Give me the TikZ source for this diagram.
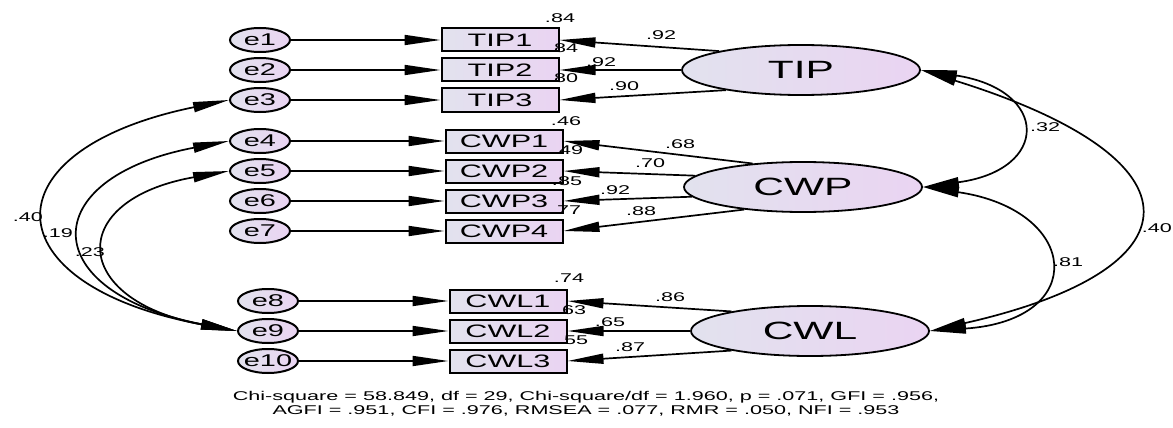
\documentclass[tikz,border=0pt]{standalone}
\usepackage{fontspec}
\setmainfont{Liberation Sans}[FakeStretch=1.7]
\usetikzlibrary{arrows.meta,shapes.geometric}
\definecolor{fillL}{RGB}{226,226,238}
\definecolor{fillR}{RGB}{234,212,242}

\begin{document}
\begin{tikzpicture}[x=1pt,y=-1pt,
  err/.style={ellipse,draw,line width=2pt,minimum width=60pt,minimum height=24pt,inner sep=0pt,
    left color=fillL,right color=fillR,font=\fontsize{17}{17}\selectfont},
  obs/.style={rectangle,draw,line width=2pt,minimum width=117pt,minimum height=23pt,inner sep=0pt,
    left color=fillL,right color=fillR,font=\fontsize{18}{18}\selectfont},
  lat/.style={ellipse,draw,line width=1.8pt,minimum width=238pt,minimum height=50pt,inner sep=0pt,
    left color=fillL,right color=fillR,font=\fontsize{25}{25}\selectfont},
  num/.style={font=\fontsize{12.7}{14}\selectfont,inner sep=0pt},
  arr/.style={line width=1.7pt,-{Triangle[length=36pt,width=10pt]}},
  cov/.style={line width=1.7pt,{Triangle[length=36pt,width=10pt]}-{Triangle[length=36pt,width=10pt]}}]
  \fill[white] (0,0) rectangle (1173,428);
  \useasboundingbox (0,0) rectangle (1173,428);

  % latent variables
  \node[lat] (TIP) at (801,70) {TIP};
  \node[lat] (CWP) at (803,187) {CWP};
  \node[lat] (CWL) at (810,331) {CWL};

  % indicators and their errors
  \foreach \n/\y in {1/40,2/70,3/100}{
    \node[err] (e\n) at (260,\y) {e\n};
    \node[obs] (TIP\n) at (500,\y) {TIP\n};
    \draw[arr] (e\n) -- (TIP\n);
  }
  \foreach \n/\i/\y in {4/1/141,5/2/171,6/3/201,7/4/231}{
    \node[err] (e\n) at (260,\y) {e\n};
    \node[obs] (CWP\i) at (504,\y) {CWP\i};
    \draw[arr] (e\n) -- (CWP\i);
  }
  \foreach \n/\i/\y in {8/1/301,9/2/331,10/3/361}{
    \node[err,inner xsep=-4pt] (e\n) at (268,\y) {e\n};
    \node[obs] (CWL\i) at (508,\y) {CWL\i};
    \draw[arr] (e\n) -- (CWL\i);
  }

  % loadings
  \draw[arr] (TIP.167) -- (TIP1.east);
  \draw[arr] (TIP.180) -- (TIP2.east);
  \draw[arr] (TIP.195) -- (TIP3.east);
  \draw[arr] (CWP.155) -- (CWP1.east);
  \draw[arr] (CWP.174) -- (CWP2.east);
  \draw[arr] (CWP.185) -- (CWP3.east);
  \draw[arr] (CWP.201) -- (CWP4.east);
  \draw[arr] (CWL.166) -- (CWL1.east);
  \draw[arr] (CWL.180) -- (CWL2.east);
  \draw[arr] (CWL.194) -- (CWL3.east);

  \node[num] (r1) at (560,18) {.84};
  \node[num] (w1) at (661,35) {.92};
  \node[num] (r2) at (563,48) {.84};
  \node[num] (w2) at (601,62) {.92};
  \node[num] (r3) at (563,78) {.80};
  \node[num] (w3) at (624,86) {.90};
  \node[num] (r4) at (566,121) {.46};
  \node[num] (w4) at (680,144) {.68};
  \node[num] (r5) at (568,150) {.49};
  \node[num] (w5) at (650,163) {.70};
  \node[num] (r6) at (567,181) {.85};
  \node[num] (w6) at (615,190) {.92};
  \node[num] (r7) at (566,210) {.77};
  \node[num] (w7) at (641,211) {.88};
  \node[num] (r8) at (569,278) {.74};
  \node[num] (w8) at (670,297) {.86};
  \node[num] (r9) at (571,310) {.63};
  \node[num] (w9) at (610,322) {.65};
  \node[num] (r10) at (573,340) {.55};
  \node[num] (w10) at (630,347) {.87};

  % correlated errors
  \node[num] (c1) at (28,217) {.40};
  \node[num] (c2) at (58,233) {.19};
  \node[num] (c3) at (90,252) {.23};
  \draw[cov] (e3.west) .. controls (-15,150) and (-10,285) .. (e9.west);
  \draw[cov] (e4.west) .. controls (35,178) and (35,292) .. (e9.west);
  \draw[cov] (e5.west) .. controls (65,200) and (70,300) .. (e9.west);

  % factor covariances
  \draw[cov] (TIP.east) .. controls (1050,90) and (1050,170) .. (CWP.east);
  \draw[cov] (TIP.east) .. controls (1210,160) and (1200,270) .. (CWL.east);
  \draw[cov] (CWP.east) .. controls (1080,210) and (1090,320) .. (CWL.east);
  \node[num] (k1) at (1045,127) {.32};
  \node[num,anchor=east] (k2) at (1172,228) {.40};
  \node[num] (k3) at (1068,262) {.81};

  \node[num,align=center] (fit) at (586,404)
    {Chi-square = 58.849, df = 29, Chi-square/df = 1.960, p = .071, GFI = .956,\\
     AGFI = .951, CFI = .976, RMSEA = .077, RMR = .050, NFI = .953};
\end{tikzpicture}
\end{document}
